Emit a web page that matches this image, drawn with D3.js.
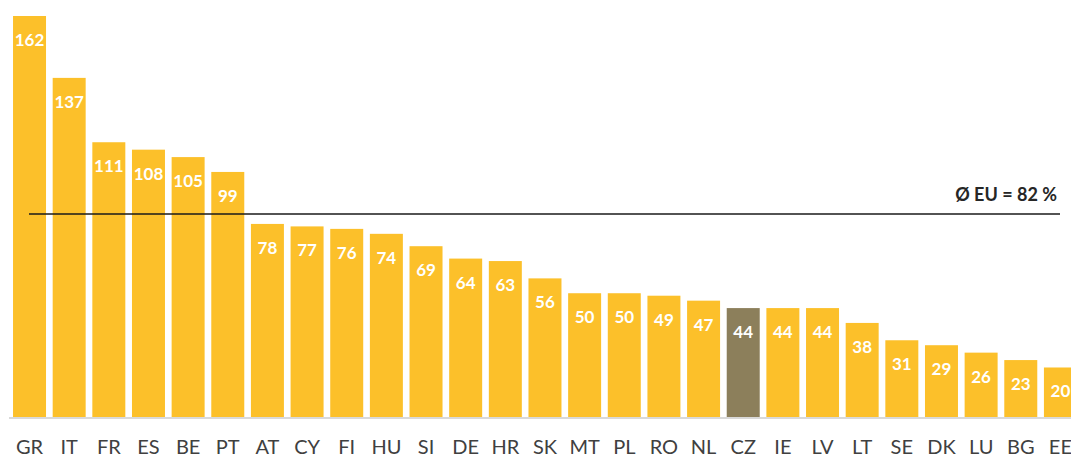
<!DOCTYPE html>
<html>
<head>
<meta charset="utf-8">
<script src="https://d3js.org/d3.v7.min.js"></script>
<style>
  body { margin: 0; background: #fff; }
  svg { display: block; }
</style>
</head>
<body>
<svg width="1071" height="457"></svg>
<script>
var countries = ["GR","IT","FR","ES","BE","PT","AT","CY","FI","HU","SI","DE","HR","SK","MT","PL","RO","NL","CZ","IE","LV","LT","SE","DK","LU","BG","EE"];
var values = [162,137,111,108,105,99,78,77,76,74,69,64,63,56,50,50,49,47,44,44,44,38,31,29,26,23,20];
var euAverage = 82;
var highlight = "CZ";

var svg = d3.select("svg");
var baseY = 417;

var x = d3.scaleBand()
  .domain(countries)
  .range([9.7, 9.7 + 27 * 39.65])
  .paddingInner(0.168)
  .paddingOuter(0.084);

var y = d3.scaleLinear()
  .domain([0, 162])
  .range([baseY, 16]);

var data = countries.map(function(c, i) { return { c: c, v: values[i] }; });

svg.selectAll("rect.bar")
  .data(data)
  .enter()
  .append("rect")
  .attr("class", "bar")
  .attr("x", function(d) { return x(d.c); })
  .attr("y", function(d) { return y(d.v); })
  .attr("width", x.bandwidth())
  .attr("height", function(d) { return baseY - y(d.v); })
  .attr("fill", function(d) { return d.c === highlight ? "#8c7f5b" : "#fcc02a"; });

// baseline
svg.append("line")
  .attr("x1", 9).attr("x2", 1071)
  .attr("y1", baseY + 1).attr("y2", baseY + 1)
  .attr("stroke", "#d9d9d9")
  .attr("stroke-width", 2);

// value labels
svg.selectAll("text.val")
  .data(data)
  .enter()
  .append("text")
  .attr("class", "val")
  .attr("x", function(d) { return x(d.c) + x.bandwidth() / 2; })
  .attr("y", function(d) { return y(d.v) + 30; })
  .attr("text-anchor", "middle")
  .attr("font-family", "Lato, 'Open Sans', sans-serif")
  .attr("font-weight", "bold")
  .attr("font-size", 17)
  .attr("fill", "#fff")
  .text(function(d) { return d.v; });

// country labels
svg.selectAll("text.cat")
  .data(data)
  .enter()
  .append("text")
  .attr("class", "cat")
  .attr("x", function(d) { return x(d.c) + x.bandwidth() / 2; })
  .attr("y", 454)
  .attr("text-anchor", "middle")
  .attr("font-family", "Lato, 'Open Sans', sans-serif")
  .attr("font-size", 20)
  .attr("fill", "#404040")
  .text(function(d) { return d.c; });

// EU average line
svg.append("line")
  .attr("x1", 29).attr("x2", 1060)
  .attr("y1", y(euAverage)).attr("y2", y(euAverage))
  .attr("stroke", "#1a1a1a")
  .attr("stroke-width", 1.6);

svg.append("text")
  .attr("x", 1057)
  .attr("y", y(euAverage) - 13)
  .attr("text-anchor", "end")
  .attr("font-family", "Lato, 'Open Sans', sans-serif")
  .attr("font-weight", "bold")
  .attr("font-size", 18)
  .attr("fill", "#262626")
  .text("Ø EU = " + euAverage + " %");
</script>
</body>
</html>
